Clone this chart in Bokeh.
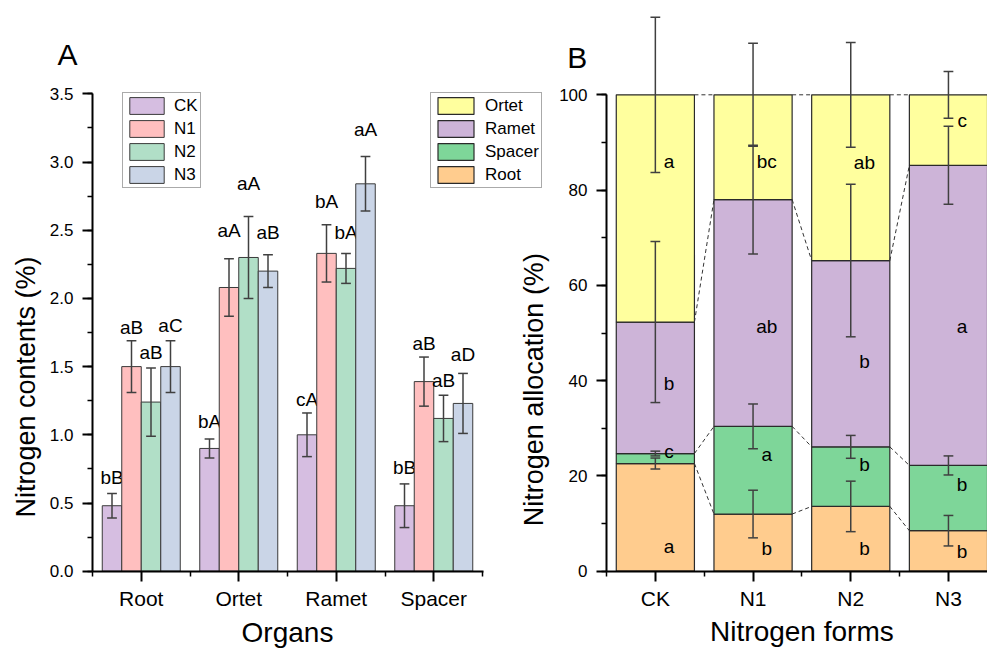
from bokeh.plotting import figure
from bokeh.models import (Range1d, FixedTicker, SingleIntervalTicker, Legend, LegendItem,
                          Label, ColumnDataSource, PrintfTickFormatter, LinearAxis)
from bokeh.embed import file_html
from bokeh.resources import INLINE
from bokeh.core.properties import value

# ---------------- Panel A data ----------------
organs = ["Root", "Ortet", "Ramet", "Spacer"]
treatments = ["CK", "N1", "N2", "N3"]
ck = [0.48, 0.90, 1.00, 0.48]
n1 = [1.50, 2.08, 2.33, 1.39]
n2 = [1.24, 2.30, 2.22, 1.12]
n3 = [1.50, 2.20, 2.84, 1.23]
ck_err = [0.09, 0.07, 0.16, 0.16]
n1_err = [0.19, 0.21, 0.21, 0.18]
n2_err = [0.25, 0.30, 0.11, 0.17]
n3_err = [0.19, 0.12, 0.20, 0.22]
ck_letters = ["bB", "bA", "cA", "bB"]
n1_letters = ["aB", "aA", "bA", "aB"]
n2_letters = ["aB", "aA", "bA", "aB"]
n3_letters = ["aC", "aB", "aA", "aD"]
ck_label_y = [0.69, 1.10, 1.26, 0.76]
n1_label_y = [1.79, 2.50, 2.71, 1.67]
n2_label_y = [1.60, 2.84, 2.485, 1.40]
n3_label_y = [1.80, 2.48, 3.24, 1.59]

# ---------------- Panel B data ----------------
forms = ["CK", "N1", "N2", "N3"]
parts = ["Ortet", "Ramet", "Spacer", "Root"]
root = [22.6, 12.0, 13.6, 8.5]
spacer = [2.1, 18.4, 12.5, 13.7]
ramet = [27.6, 47.6, 39.1, 63.0]
ortet = [47.7, 22.0, 34.8, 14.8]
root_err = [1.15, 5.0, 5.3, 3.2]
spacer_err = [0.5, 4.7, 2.4, 2.0]
ramet_err = [16.9, 11.4, 16.0, 8.2]
ortet_err = [16.3, 10.8, 11.0, 4.9]
root_letters = ["a", "b", "b", "b"]
spacer_letters = ["c", "a", "b", "b"]
ramet_letters = ["b", "ab", "b", "a"]
ortet_letters = ["a", "bc", "ab", "c"]
root_label_y = [5.2, 4.7, 4.7, 4.2]
spacer_label_y = [25.1, 24.4, 22.5, 18.3]
ramet_label_y = [39.5, 51.4, 44.1, 51.4]
ortet_label_y = [85.9, 86.1, 85.7, 94.6]

FONT = "Liberation Sans"
colors_a = ["#D6BEE1", "#FFBFBF", "#B1DFC7", "#CAD5E7"]
colors_b = {"Ortet": "#FFFF9E", "Ramet": "#CDB4D8", "Spacer": "#7ED699", "Root": "#FFCC8E"}
ERR = "#404040"

W, H = 987, 648
# panel A scale: origin at pixel (92, 570.7); 97.5 px per category, 136.4 px per unit
axA, ayA, sxA, syA = 92.0, 570.7, 97.5, 136.4
# panel B scale: origin at pixel (606, 570.7); 97.7 px per category, 4.764 px per %
axB, ayB, sxB, syB = 606.0, 570.7, 97.7, 4.764

p = figure(width=W, height=H,
           x_range=Range1d(-axA / sxA, (W - axA) / sxA),
           y_range=Range1d(-(H - ayA) / syA, ayA / syA),
           x_axis_type=None, y_axis_type=None, min_border=0,
           output_backend="svg", toolbar_location=None, title=None)
p.extra_x_ranges = {"xb": Range1d(-axB / sxB, (W - axB) / sxB)}
p.extra_y_ranges = {"yb": Range1d(-(H - ayB) / syB, ayB / syB)}
p.outline_line_color = None
p.background_fill_color = "white"
p.border_fill_color = "white"


def style(ax, size):
    ax.axis_line_width = 2
    ax.major_tick_line_width = 2
    ax.minor_tick_line_width = 1.5
    ax.major_tick_out = 10
    ax.major_tick_in = 0
    ax.minor_tick_out = 5
    ax.minor_tick_in = 0
    ax.major_label_text_font = FONT
    ax.major_label_text_font_size = size
    ax.major_label_text_color = "black"
    ax.axis_line_color = "black"
    ax.major_tick_line_color = "black"
    ax.minor_tick_line_color = "black"


# ---- axes of panel A ----
ayaxA = LinearAxis(fixed_location=0, bounds=(0, 3.5),
                   ticker=SingleIntervalTicker(interval=0.5, num_minor_ticks=2),
                   formatter=PrintfTickFormatter(format="%.1f"), major_label_standoff=9)
style(ayaxA, "17px")
p.add_layout(ayaxA, "left")
axaxA = LinearAxis(fixed_location=0, bounds=(0, 4.01),
                   ticker=FixedTicker(ticks=[0.5, 1.5, 2.5, 3.5], minor_ticks=[0, 1, 2, 3, 4]),
                   major_label_overrides={0.5 + i: o for i, o in enumerate(organs)},
                   major_label_standoff=6)
style(axaxA, "21px")
p.add_layout(axaxA, "below")

# ---- axes of panel B ----
ayaxB = LinearAxis(x_range_name="xb", y_range_name="yb", fixed_location=0, bounds=(0, 100),
                   ticker=SingleIntervalTicker(interval=20, num_minor_ticks=2),
                   major_label_standoff=9)
style(ayaxB, "17px")
p.add_layout(ayaxB, "left")
axaxB = LinearAxis(x_range_name="xb", y_range_name="yb", fixed_location=0, bounds=(0, 3.95),
                   ticker=FixedTicker(ticks=[0.5, 1.5, 2.5, 3.5], minor_ticks=[0, 1, 2, 3]),
                   major_label_overrides={0.5 + i: f for i, f in enumerate(forms)},
                   major_label_standoff=6)
style(axaxB, "21px")
p.add_layout(axaxB, "below")

# ================= Panel A glyphs =================
series = [(ck, ck_err, ck_letters, ck_label_y), (n1, n1_err, n1_letters, n1_label_y),
          (n2, n2_err, n2_letters, n2_label_y), (n3, n3_err, n3_letters, n3_label_y)]
offsets = [-0.3, -0.1, 0.1, 0.3]
legend_a_items = []
for k, (vals, errs, letters, ly) in enumerate(series):
    xs = [i + 0.5 + offsets[k] for i in range(len(organs))]
    src = ColumnDataSource(dict(x=xs, top=vals,
                                lo=[v - e for v, e in zip(vals, errs)],
                                hi=[v + e for v, e in zip(vals, errs)],
                                cl=[x - 0.05 for x in xs], cr=[x + 0.05 for x in xs],
                                txt=letters, ty=ly))
    r = p.vbar(x="x", top="top", width=0.2, bottom=0, source=src, fill_color=colors_a[k],
               line_color="#3a3a3a", line_width=1)
    p.segment(x0="x", x1="x", y0="lo", y1="hi", source=src, line_color=ERR, line_width=1.5)
    p.segment(x0="cl", x1="cr", y0="lo", y1="lo", source=src, line_color=ERR, line_width=1.5)
    p.segment(x0="cl", x1="cr", y0="hi", y1="hi", source=src, line_color=ERR, line_width=1.5)
    p.text(x="x", y="ty", text="txt", source=src, text_align="center", text_baseline="middle",
           text_font=value(FONT), text_font_size="19px", text_color="black")
    legend_a_items.append(LegendItem(label=treatments[k], renderers=[r]))

# ================= Panel B glyphs =================
stack = [("Root", root, root_err, root_letters, root_label_y),
         ("Spacer", spacer, spacer_err, spacer_letters, spacer_label_y),
         ("Ramet", ramet, ramet_err, ramet_letters, ramet_label_y),
         ("Ortet", ortet, ortet_err, ortet_letters, ortet_label_y)]
xs_b = [i + 0.5 for i in range(len(forms))]
base = [0.0] * len(forms)
levels = []
bar_renderers = {}
for name, vals, errs, letters, ly in stack:
    tops = [b + v for b, v in zip(base, vals)]
    levels.append(tops)
    src = ColumnDataSource(dict(x=xs_b, bottom=base, top=tops))
    bar_renderers[name] = p.vbar(x="x", bottom="bottom", top="top", width=0.8, source=src,
                                 fill_color=colors_b[name], line_color="#2a2a2a", line_width=1.2,
                                 x_range_name="xb", y_range_name="yb")
    base = tops

for tops in levels:
    p.segment(x0=[x + 0.4 for x in xs_b[:-1]], x1=[x - 0.4 for x in xs_b[1:]],
              y0=tops[:-1], y1=tops[1:], line_color="#333333", line_width=1, line_dash="4 3",
              x_range_name="xb", y_range_name="yb")

for (name, vals, errs, letters, ly), tops in zip(stack, levels):
    src = ColumnDataSource(dict(x=xs_b, lo=[t - e for t, e in zip(tops, errs)],
                                hi=[t + e for t, e in zip(tops, errs)],
                                cl=[x - 0.05 for x in xs_b], cr=[x + 0.05 for x in xs_b],
                                tx=[x + 0.14 for x in xs_b], txt=letters, ty=ly))
    kw = dict(source=src, line_color=ERR, line_width=1.5, x_range_name="xb", y_range_name="yb")
    p.segment(x0="x", x1="x", y0="lo", y1="hi", **kw)
    p.segment(x0="cl", x1="cr", y0="lo", y1="lo", **kw)
    p.segment(x0="cl", x1="cr", y0="hi", y1="hi", **kw)
    p.text(x="tx", y="ty", text="txt", source=src, text_align="center", text_baseline="middle",
           text_font=value(FONT), text_font_size="19px", text_color="black",
           x_range_name="xb", y_range_name="yb")

# ================= Legends =================
common = dict(orientation="vertical", glyph_height=21, label_height=21, spacing=2, padding=2,
              margin=0, label_text_font=FONT, label_text_font_size="17px",
              label_text_color="black", border_line_color="#555555", border_line_width=1.5,
              background_fill_color="white", background_fill_alpha=1)
legA = Legend(items=legend_a_items, location=(122, 460), glyph_width=43, label_standoff=6, **common)
p.add_layout(legA)
legB = Legend(items=[LegendItem(label=n, renderers=[bar_renderers[n]]) for n in parts],
              location=(430, 460), glyph_width=45, label_standoff=7, **common)
p.add_layout(legB)

# ================= Texts =================
p.add_layout(Label(x=-0.36, y=3.788, text="A", text_font=FONT, text_font_size="30px",
                   text_align="left", text_baseline="middle", text_color="black"))
p.add_layout(Label(x=-0.687, y=1.35, text="Nitrogen contents (%)", angle=1.5708,
                   text_font=FONT, text_font_size="27px", text_align="center",
                   text_baseline="middle", text_color="black"))
p.add_layout(Label(x=2.0, y=-0.447, text="Organs", text_font=FONT, text_font_size="28px",
                   text_align="center", text_baseline="middle", text_color="black"))
p.add_layout(Label(x=-0.74, y=38.1, text="Nitrogen allocation (%)", angle=1.5708,
                   text_font=FONT, text_font_size="27px", text_align="center",
                   text_baseline="middle", text_color="black",
                   x_range_name="xb", y_range_name="yb"))
p.add_layout(Label(x=-0.402, y=107.9, text="B", text_font=FONT, text_font_size="30px",
                   text_align="left", text_baseline="middle", text_color="black",
                   x_range_name="xb", y_range_name="yb"))
p.add_layout(Label(x=2.0, y=-12.7, text="Nitrogen forms", text_font=FONT, text_font_size="28px",
                   text_align="center", text_baseline="middle", text_color="black",
                   x_range_name="xb", y_range_name="yb"))

open("out.html", "w").write(file_html(p, INLINE))
